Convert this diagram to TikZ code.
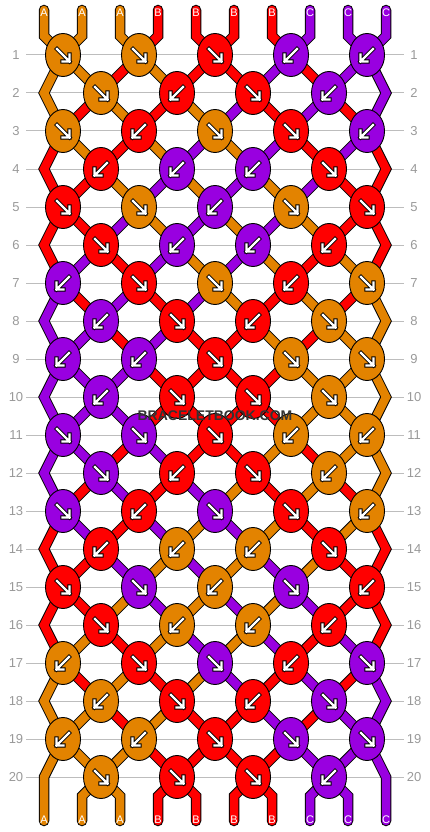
\documentclass[tikz,border=0pt]{standalone}
\usepackage{fontspec}
\setmainfont{Liberation Sans}
\usetikzlibrary{shapes.geometric}
\definecolor{cA}{HTML}{E38300}
\definecolor{cB}{HTML}{FF0000}
\definecolor{cC}{HTML}{9900E0}
\definecolor{gridgray}{HTML}{BDBDBD}
\definecolor{numgray}{HTML}{999999}
\definecolor{markgray}{HTML}{333333}
\pgfdeclarelayer{gridlayer}
\pgfdeclarelayer{stringlayer}
\pgfsetlayers{gridlayer,stringlayer,main}
\tikzset{
  knot/.style={ellipse, draw=black, line width=0.9pt, minimum width=35pt, minimum height=43pt, inner sep=0pt, outer sep=0pt},
  strout/.style={draw=black, line width=10.5pt, line cap=round, line join=miter},
  strin/.style={line width=8.5pt, line cap=round, line join=miter},
  rowline/.style={draw=gridgray, line width=1pt},
  rownum/.style={text=numgray, font=\fontsize{13}{13}\selectfont, inner sep=0pt},
  endlabel/.style={text=white, font=\fontsize{11}{11}\selectfont, inner sep=0pt},
  arrout/.style={draw=black, line width=4.2pt, line cap=rect, line join=miter},
  arrin/.style={draw=white, line width=2.2pt, line cap=rect, line join=miter},
  wmark/.style={font=\bfseries\fontsize{14}{14}\selectfont, inner sep=0pt},
}
\begin{document}
\begin{tikzpicture}[x=1pt,y=-1pt]
\useasboundingbox (0,0) rectangle (430,832);

% row guide lines and numbers
\begin{pgfonlayer}{gridlayer}
\foreach \r in {1,...,20} {
  \pgfmathsetmacro\yy{55+38*(\r-1)}
  \draw[rowline] (26,\yy) -- (404,\yy);
  \node[rownum] (nl-\r) at (16,\yy) {\r};
  \node[rownum] (nr-\r) at (414,\yy) {\r};
}
\end{pgfonlayer}

% end points of the strings
\foreach \p in {0,...,9} {
  \pgfmathsetmacro\xx{44+38*\p}
  \coordinate (T-\p) at (\xx,10);
  \coordinate (P-0-\p) at (\xx,36);
  \coordinate (P-21-\p) at (\xx,796);
  \coordinate (Bt-\p) at (\xx,821);
}

% knots
\foreach \r/\ks in {
  1/{A/r,A/r,B/r,C/l,C/l},
  2/{A/r,B/l,B/r,C/l},
  3/{A/r,B/l,A/r,B/r,C/l},
  4/{B/l,C/l,C/l,B/r},
  5/{B/r,A/r,C/l,A/r,B/r},
  6/{B/r,C/l,C/l,B/l},
  7/{C/l,B/r,A/r,B/l,A/r},
  8/{C/l,B/r,B/l,A/r},
  9/{C/l,C/l,B/r,A/r,A/r},
  10/{C/l,B/r,B/r,A/r},
  11/{C/r,C/r,B/r,A/l,A/l},
  12/{C/r,B/l,B/r,A/l},
  13/{C/r,B/l,C/r,B/r,A/l},
  14/{B/l,A/l,A/l,B/r},
  15/{B/r,C/r,A/l,C/r,B/l},
  16/{B/r,A/l,A/l,B/l},
  17/{A/l,B/r,C/r,B/l,C/r},
  18/{A/l,B/r,B/l,C/r},
  19/{A/l,A/l,B/r,C/r,C/r},
  20/{A/r,B/r,B/r,C/l}} {
  \pgfmathsetmacro\yy{55+38*(\r-1)}
  \foreach \c/\d [count=\k from 0] in \ks {
    \ifodd\r
      \pgfmathsetmacro\xx{63+76*\k}
    \else
      \pgfmathsetmacro\xx{101+76*\k}
    \fi
    \node[knot, fill=c\c] (K-\r-\k) at (\xx,\yy) {};
    \begin{scope}[shift={(K-\r-\k.center)}]
      \if r\d
        \draw[arrout] (-6,-6) -- (6.5,6.5) (-0.5,6.5) -- (6.5,6.5) -- (6.5,-0.5);
        \draw[arrin] (-6,-6) -- (6.5,6.5) (-0.5,6.5) -- (6.5,6.5) -- (6.5,-0.5);
      \else
        \draw[arrout] (6,-6) -- (-6.5,6.5) (0.5,6.5) -- (-6.5,6.5) -- (-6.5,-0.5);
        \draw[arrin] (6,-6) -- (-6.5,6.5) (0.5,6.5) -- (-6.5,6.5) -- (-6.5,-0.5);
      \fi
    \end{scope}
  }
}

% string points at every row
\foreach \r in {1,...,20} {
  \pgfmathsetmacro\yy{55+38*(\r-1)}
  \foreach \p in {0,...,9} {
    \ifodd\r
      \pgfmathtruncatemacro\kk{div(\p,2)}
      \coordinate (P-\r-\p) at (K-\r-\kk.center);
    \else
      \ifnum\p=0
        \coordinate (P-\r-\p) at (44,\yy);
      \else
        \ifnum\p=9
          \coordinate (P-\r-\p) at (386,\yy);
        \else
          \pgfmathtruncatemacro\kk{div(\p-1,2)}
          \coordinate (P-\r-\p) at (K-\r-\kk.center);
        \fi
      \fi
    \fi
  }
}

\begin{pgfonlayer}{stringlayer}
% black outlines
\foreach \p in {0,...,9} {
  \draw[strout] (T-\p) \foreach \r in {0,...,21} { -- (P-\r-\p) } -- (Bt-\p);
}
% coloured strings, by the colour at each position after each row
\foreach \r/\cols in {
  0/{A,A,A,B,B,B,B,C,C,C},
  1/{A,A,B,A,B,B,C,B,C,C},
  2/{A,B,A,B,A,C,B,C,B,C},
  3/{B,A,B,A,C,A,C,B,C,B},
  4/{B,B,A,C,A,C,A,C,B,B},
  5/{B,B,C,A,C,A,C,A,B,B},
  6/{B,C,B,C,A,C,A,B,A,B},
  7/{C,B,C,B,C,A,B,A,B,A},
  8/{C,C,B,C,B,B,A,B,A,A},
  9/{C,C,C,B,B,B,B,A,A,A},
  10/{C,C,C,B,B,B,B,A,A,A},
  11/{C,C,B,C,B,B,A,B,A,A},
  12/{C,B,C,B,C,A,B,A,B,A},
  13/{B,C,B,C,A,C,A,B,A,B},
  14/{B,B,C,A,C,A,C,A,B,B},
  15/{B,B,A,C,A,C,A,C,B,B},
  16/{B,A,B,A,C,A,C,B,C,B},
  17/{A,B,A,B,A,C,B,C,B,C},
  18/{A,A,B,A,B,B,C,B,C,C},
  19/{A,A,A,B,B,B,B,C,C,C},
  20/{A,A,A,B,B,B,B,C,C,C}} {
  \pgfmathtruncatemacro\rA{\r+1}
  \pgfmathtruncatemacro\rB{\r+2}
  \foreach \c [count=\p from 0] in \cols {
    \pgfmathtruncatemacro\edge{(\p==0)||(\p==9)}
    \ifnum\r=0
      \draw[strin, draw=c\c] (T-\p) -- (P-0-\p) -- (P-1-\p);
    \else
      \ifnum\r=20
        \ifnum\edge=0
          \draw[strin, draw=c\c] (P-20-\p) -- (P-21-\p) -- (Bt-\p);
        \fi
      \else
        \ifnum\edge=1
          \ifodd\r
            \ifnum\r=19
              \draw[strin, draw=c\c] (P-19-\p) -- (P-20-\p) -- (P-21-\p) -- (Bt-\p);
            \else
              \draw[strin, draw=c\c] (P-\r-\p) -- (P-\rA-\p) -- (P-\rB-\p);
            \fi
          \fi
        \else
          \draw[strin, draw=c\c] (P-\r-\p) -- (P-\rA-\p);
        \fi
      \fi
    \fi
  }
}
\end{pgfonlayer}

% string end labels
\foreach \c [count=\p from 0] in {A,A,A,B,B,B,B,C,C,C} {
  \node[endlabel] (lt-\p) at (T-\p) [yshift=-2.5pt] {\c};
  \node[endlabel] (lb-\p) at (Bt-\p) [yshift=1pt] {\c};
}

% watermark
\node[wmark, text=markgray] (wm) at (215,416) {BRACELETBOOK.COM};
\end{tikzpicture}
\end{document}
